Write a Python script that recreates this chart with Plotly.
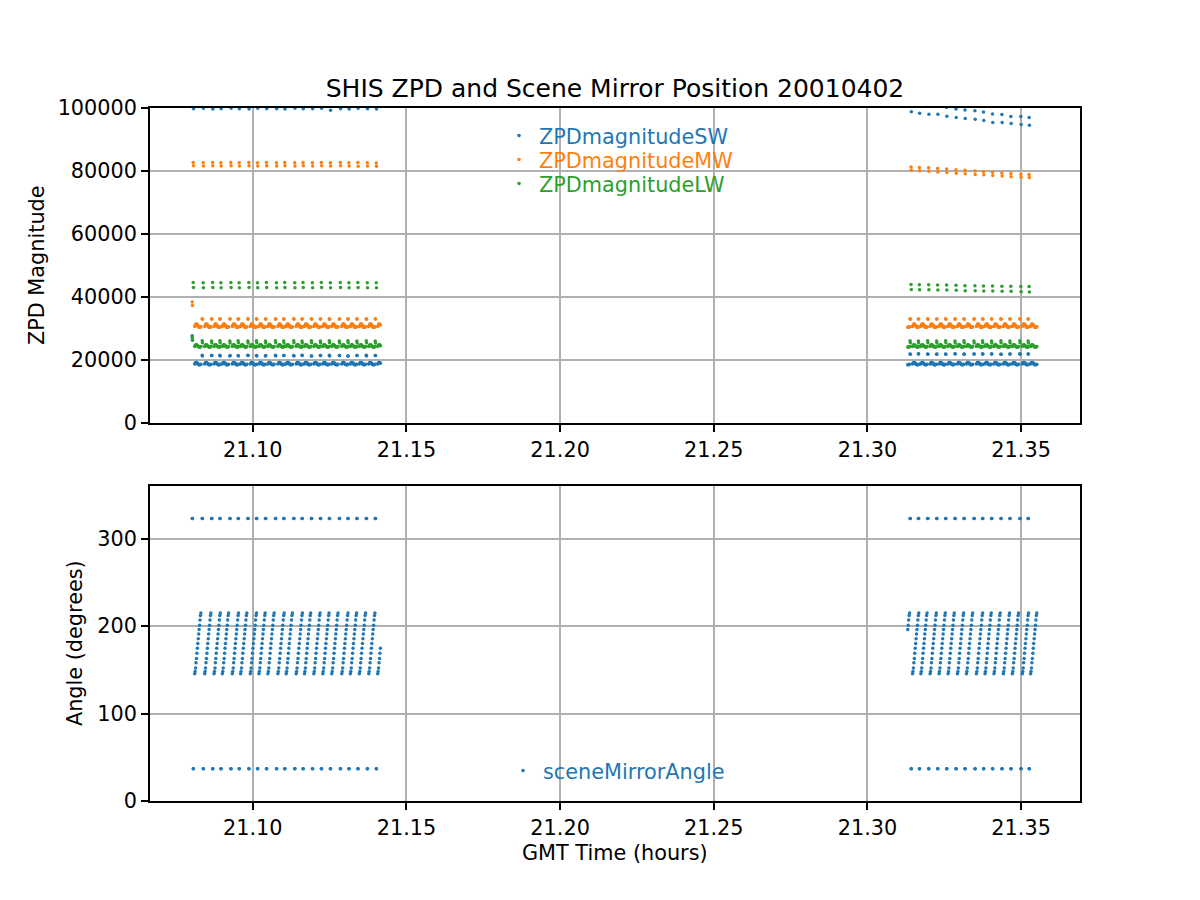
import plotly.graph_objects as go

# ---------------- data ----------------
# start time (GMT hours) of each scan cycle
SEG1_CYCLE_START_H = [21.08029, 21.08354, 21.08659, 21.08929, 21.09253, 21.09523, 21.09838,
                      21.10120, 21.10412, 21.10737, 21.11006, 21.11331, 21.11601, 21.11906,
                      21.12198, 21.12490, 21.12815, 21.13094, 21.13386, 21.13692, 21.13984]
SEG2_LEADIN_START_H = 21.31087
SEG2_CYCLE_START_H = [21.31386, 21.31656, 21.31958, 21.32250, 21.32542, 21.32847, 21.33140,
                      21.33464, 21.33744, 21.34036, 21.34341, 21.34633, 21.34958, 21.35227]
SEG1_LAST_RAMP_COUNT = 7      # last ramp of segment 1 is cut short
SEG2_LEADIN_FIRST = 10        # segment 2 starts in the middle of a ramp

# time of each view inside a cycle (seconds after the cycle start)
CAL323_OFFSET_S = [0.0, 0.35]
CAL037_OFFSET_S = [1.17, 1.5]
SCENE_OFFSET_S = [2.9, 3.4, 3.95, 4.45, 5.0, 5.5, 6.05, 6.55, 7.1, 7.6, 8.1, 8.65, 9.15, 9.7, 10.2]

# scene mirror angles (degrees)
CAL323_ANGLE = 323.0
CAL037_ANGLE = 37.0
RAMP_ANGLES = [145.5, 148, 152, 158, 163, 169, 174.5, 180, 185.5, 191, 196, 201, 207, 212, 215]

# ZPD magnitudes of the earth-scene views within one cycle
SW_SCENE = [18700, 18900, 19100, 19200, 19200, 19100, 18950, 18800, 18650, 18550, 18500, 18500, 18550, 18600, 18650]
MW_SCENE = [30600, 30900, 31200, 31400, 31400, 31300, 31100, 30900, 30700, 30500, 30400, 30400, 30450, 30500, 30550]
LW_SCENE = [24300, 24500, 24700, 24800, 24800, 24700, 24500, 24400, 24300, 24200, 24100, 24100, 24150, 24200, 24250]

# ZPD magnitudes of the calibration views, segment 1 (21 cycles)
SW_323_A_1 = [27700, 21500, 21400, 21500, 21300, 21400, 21500, 21400, 21300, 21500, 21400,
              21400, 21500, 21300, 21400, 21500, 21400, 21300, 21400, 21500, 21400]
SW_323_B_1 = [26400, 21300, 21400, 21300, 21400, 21300, 21400, 21300, 21400, 21300, 21400,
              21300, 21400, 21300, 21400, 21300, 21400, 21300, 21400, 21300, 21400]
SW_037_A_1 = [100600, 100700, 100500, 100600, 100800, 100500, 100600, 100700, 100500, 100600, 100700,
              100500, 100600, 100800, 100500, 100600, 100700, 100500, 100600, 100700, 100500]
SW_037_B_1 = [99800, 99900, 99700, 99800, 99900, 99800, 99700, 99900, 99800, 99800, 99700,
              99900, 99800, 99800, 99900, 99300, 99800, 99700, 99900, 99800, 99700]
MW_323_A_1 = [38400, 33100, 33000, 33100, 33000, 33100, 33000, 33100, 33000, 33100, 33000,
              33100, 33000, 33100, 33000, 33100, 33000, 33100, 33000, 33100, 33000]
MW_323_B_1 = [37300, 32900, 33000, 32900, 33000, 32900, 33000, 32900, 33000, 32900, 33000,
              32900, 33000, 32900, 33000, 32900, 33000, 32900, 33000, 32900, 33000]
MW_037_A_1 = [82700, 82600, 82700, 82600, 82700, 82600, 82700, 82600, 82700, 82600, 82700,
              82600, 82700, 82600, 82700, 82600, 82700, 82600, 82700, 82600, 82500]
MW_037_B_1 = [81700, 81600, 81700, 81600, 81700, 81600, 81700, 81600, 81700, 81600, 81700,
              81600, 81700, 81600, 81700, 81600, 81700, 81600, 81500, 81600, 81500]
LW_323_A_1 = [27200, 26100, 26000, 26100, 26000, 26100, 26000, 26100, 26000, 26100, 26000,
              26100, 26000, 26100, 26000, 26100, 26000, 26100, 26000, 26100, 26000]
LW_323_B_1 = [26300, 25500, 25400, 25500, 25400, 25500, 25400, 25500, 25400, 25500, 25400,
              25500, 25400, 25500, 25400, 25500, 25400, 25500, 25400, 25500, 25400]
LW_037_A_1 = [44600, 44500, 44600, 44500, 44600, 44500, 44600, 44500, 44600, 44500, 44600,
              44500, 44600, 44500, 44600, 44500, 44600, 44500, 44600, 44500, 44500]
LW_037_B_1 = [43000, 42900, 43000, 42900, 43000, 42900, 43000, 42900, 43000, 42900, 43000,
              42900, 43000, 42900, 43000, 42900, 43000, 42900, 43000, 42900, 42900]

# ZPD magnitudes of the calibration views, segment 2 (14 cycles)
SW_323_A_2 = [21900, 22000, 21900, 21800, 21900, 22000, 21900, 21900, 22000, 21900, 21800, 21900, 22000, 21900]
SW_323_B_2 = [21800, 21900, 21800, 21900, 21800, 21900, 21800, 21900, 21800, 21900, 21800, 21900, 21800, 21900]
SW_037_A_2 = [101800, 101400, 101000, 100600, 100200, 99700, 99400, 99100, 98700, 98100, 97900, 97300, 97300, 97000]
SW_037_B_2 = [98800, 98300, 98000, 98000, 97400, 97000, 96700, 96400, 96000, 95400, 95400, 95100, 94800, 94500]
MW_323_A_2 = [33100, 33000, 33100, 33000, 33100, 33000, 33100, 33000, 33100, 33000, 33100, 33000, 33100, 33000]
MW_323_B_2 = [32900, 33000, 32900, 33000, 32900, 33000, 32900, 33000, 32900, 33000, 32900, 33000, 32900, 33000]
MW_037_A_2 = [81300, 81100, 81000, 80800, 80600, 80400, 80200, 80000, 79800, 79600, 79400, 79200, 79000, 78900]
MW_037_B_2 = [80300, 80100, 79900, 79700, 79500, 79300, 79100, 78900, 78800, 78600, 78400, 78200, 78000, 77900]
LW_323_A_2 = [26100, 26000, 26100, 26000, 26100, 26000, 26100, 26000, 26100, 26000, 26100, 26000, 26100, 26000]
LW_323_B_2 = [25500, 25400, 25500, 25400, 25500, 25400, 25500, 25400, 25500, 25400, 25500, 25400, 25500, 25400]
LW_037_A_2 = [44000, 43900, 43900, 43800, 43800, 43700, 43600, 43600, 43500, 43500, 43400, 43400, 43300, 43300]
LW_037_B_2 = [42400, 42300, 42300, 42200, 42200, 42100, 42000, 42000, 41900, 41900, 41800, 41800, 41700, 41600]

TITLE = "SHIS ZPD and Scene Mirror Position 20010402"
X_LABEL = "GMT Time (hours)"
Y1_LABEL = "ZPD Magnitude"
Y2_LABEL = "Angle (degrees)"
SERIES_NAMES = ["ZPDmagnitudeSW", "ZPDmagnitudeMW", "ZPDmagnitudeLW"]
ANGLE_NAME = "sceneMirrorAngle"
Y1_TICKS = [0, 20000, 40000, 60000, 80000, 100000]
Y2_TICKS = [0, 100, 200, 300]
X_TICKS = [21.10, 21.15, 21.20, 21.25, 21.30, 21.35]

COLORS = ["#1f77b4", "#ff7f0e", "#2ca02c"]


# ---------------- assemble point lists from the arrays ----------------
def assemble(scene_vals, cal323_a1, cal323_b1, cal037_a1, cal037_b1,
             cal323_a2, cal323_b2, cal037_a2, cal037_b2):
    xs, ys = [], []

    def add_cycle(t0, c323, c037, scene_idx):
        for off, v in zip(CAL323_OFFSET_S, c323):
            xs.append(t0 + off / 3600.0); ys.append(v)
        for off, v in zip(CAL037_OFFSET_S, c037):
            xs.append(t0 + off / 3600.0); ys.append(v)
        for k in scene_idx:
            xs.append(t0 + SCENE_OFFSET_S[k] / 3600.0); ys.append(scene_vals[k])

    n1 = len(SEG1_CYCLE_START_H)
    for i, t0 in enumerate(SEG1_CYCLE_START_H):
        idx = range(len(SCENE_OFFSET_S)) if i < n1 - 1 else range(SEG1_LAST_RAMP_COUNT)
        add_cycle(t0, (cal323_a1[i], cal323_b1[i]), (cal037_a1[i], cal037_b1[i]), idx)
    # segment 2 lead-in (scene views only)
    add_cycle(SEG2_LEADIN_START_H, (), (), range(SEG2_LEADIN_FIRST, len(SCENE_OFFSET_S)))
    for i, t0 in enumerate(SEG2_CYCLE_START_H):
        add_cycle(t0, (cal323_a2[i], cal323_b2[i]), (cal037_a2[i], cal037_b2[i]),
                  range(len(SCENE_OFFSET_S)))
    return xs, ys


n1, n2 = len(SEG1_CYCLE_START_H), len(SEG2_CYCLE_START_H)
sw = assemble(SW_SCENE, SW_323_A_1, SW_323_B_1, SW_037_A_1, SW_037_B_1,
              SW_323_A_2, SW_323_B_2, SW_037_A_2, SW_037_B_2)
mw = assemble(MW_SCENE, MW_323_A_1, MW_323_B_1, MW_037_A_1, MW_037_B_1,
              MW_323_A_2, MW_323_B_2, MW_037_A_2, MW_037_B_2)
lw = assemble(LW_SCENE, LW_323_A_1, LW_323_B_1, LW_037_A_1, LW_037_B_1,
              LW_323_A_2, LW_323_B_2, LW_037_A_2, LW_037_B_2)
ang = assemble(RAMP_ANGLES,
               [CAL323_ANGLE] * n1, [CAL323_ANGLE] * n1, [CAL037_ANGLE] * n1, [CAL037_ANGLE] * n1,
               [CAL323_ANGLE] * n2, [CAL323_ANGLE] * n2, [CAL037_ANGLE] * n2, [CAL037_ANGLE] * n2)

# ---------------- figure ----------------
FONT = "DejaVu Sans"
MS = 3.5
fig = go.Figure()

legend_ids = ["legend", "legend3", "legend4"]
for (xs, ys), name, col, lid in zip([sw, mw, lw], SERIES_NAMES, COLORS, legend_ids):
    fig.add_trace(go.Scatter(
        x=xs, y=ys, mode="markers", xaxis="x", yaxis="y",
        marker=dict(size=MS, color=col, line=dict(width=0)),
        name=f'<span style="color:{col}">{name}</span>', legend=lid))

fig.add_trace(go.Scatter(
    x=ang[0], y=ang[1], mode="markers", xaxis="x2", yaxis="y2",
    marker=dict(size=MS, color=COLORS[0], line=dict(width=0)),
    name=f'<span style="color:{COLORS[0]}">{ANGLE_NAME}</span>', legend="legend2"))

XR = [21.066558, 21.369156]
axis_common = dict(showline=True, linecolor="black", linewidth=1.6, mirror=True,
                   ticks="outside", ticklen=7, tickwidth=1.6, tickcolor="black",
                   showgrid=True, gridcolor="#b0b0b0", gridwidth=1.6, zeroline=False,
                   tickfont=dict(family=FONT, size=20.8, color="black"))


def legend_box(x, y):
    return dict(x=x, xanchor="left", y=y, yanchor="middle",
                bgcolor="rgba(0,0,0,0)", borderwidth=0,
                font=dict(family=FONT, size=20.8), itemsizing="trace")


# the page adds an 8 px body margin, so the figure margins are reduced by 8 px
fig.update_layout(
    width=1200, height=900,
    margin=dict(l=142, r=128, t=100, b=107),
    paper_bgcolor="white", plot_bgcolor="white",
    font=dict(family=FONT, size=20.8, color="black"),
    title=dict(text=TITLE, x=(615 - 8) / 1200, xanchor="center", y=1 - 80 / 900, yanchor="middle",
               font=dict(family=FONT, size=25, color="black")),
    xaxis=dict(domain=[0, 1], anchor="y", range=XR, tickvals=X_TICKS,
               ticktext=[f"{v:.2f}" for v in X_TICKS], **axis_common),
    yaxis=dict(domain=[0.5455, 1], anchor="x", range=[0, 100000], tickvals=Y1_TICKS,
               ticktext=[str(v) for v in Y1_TICKS], **axis_common),
    xaxis2=dict(domain=[0, 1], anchor="y2", range=XR, tickvals=X_TICKS,
                ticktext=[f"{v:.2f}" for v in X_TICKS], **axis_common),
    yaxis2=dict(domain=[0, 0.4545], anchor="x2", range=[0, 360], tickvals=Y2_TICKS,
                ticktext=[str(v) for v in Y2_TICKS], **axis_common),
    legend=legend_box(0.3753, (801 - 136) / 693),
    legend3=legend_box(0.3753, (801 - 160) / 693),
    legend4=legend_box(0.3753, (801 - 184) / 693),
    legend2=legend_box(0.3796, (801 - 771) / 693),
    showlegend=True,
    annotations=[
        dict(text=X_LABEL, xref="paper", yref="paper", x=0.5, y=-0.075,
             xanchor="center", yanchor="middle", showarrow=False,
             font=dict(family=FONT, size=20.8, color="black")),
        dict(text=Y1_LABEL, xref="paper", yref="paper", x=-0.1215, y=0.7734,
             xanchor="center", yanchor="middle", textangle=-90, showarrow=False,
             font=dict(family=FONT, size=20.8, color="black")),
        dict(text=Y2_LABEL, xref="paper", yref="paper", x=-0.0806, y=0.228,
             xanchor="center", yanchor="middle", textangle=-90, showarrow=False,
             font=dict(family=FONT, size=20.8, color="black")),
    ],
)

fig.write_html("out.html")
